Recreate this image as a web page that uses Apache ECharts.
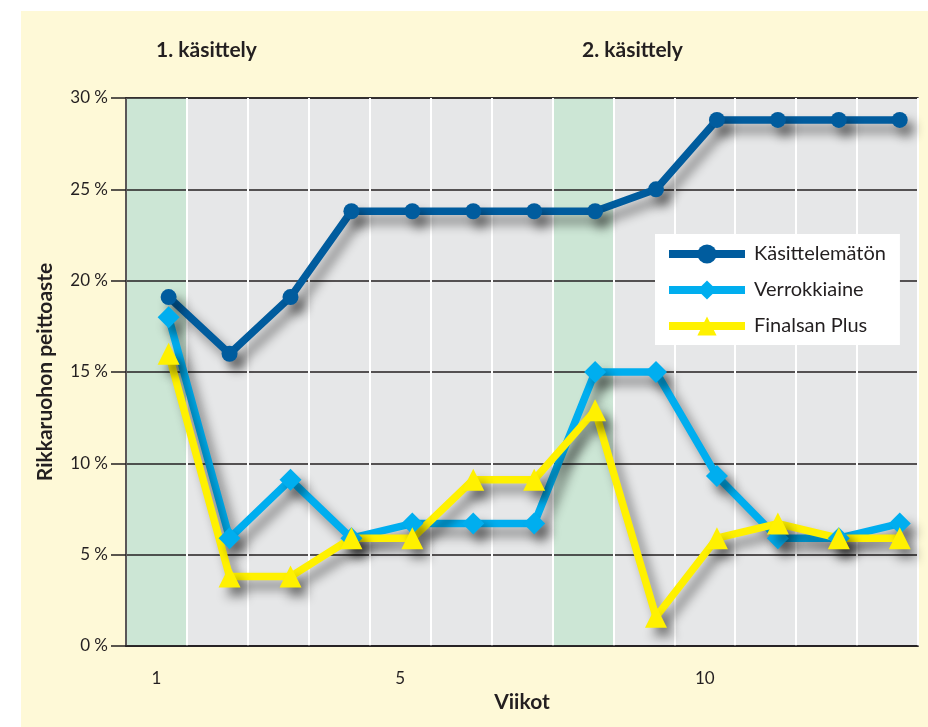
<!DOCTYPE html>
<html>
<head>
<meta charset="utf-8">
<script src="https://cdn.jsdelivr.net/npm/echarts@6/dist/echarts.min.js"></script>
<style>
  html, body { margin: 0; padding: 0; background: #ffffff; }
  #wrap { position: relative; width: 928px; height: 727px; }
  #paper { position: absolute; left: 21px; top: 11px; right: 0; bottom: 0; background: #fef9d7; }
  #chart { position: absolute; left: 0; top: 0; width: 928px; height: 727px; }
</style>
</head>
<body>
<div id="wrap">
  <div id="paper"></div>
  <div id="chart"></div>
</div>
<script>
// weeks 1..13
const weeks = ['1', '2', '3', '4', '5', '6', '7', '8', '9', '10', '11', '12', '13'];
const shownWeekLabels = ['1', '5', '10'];
const treatmentWeeks = ['1', '8'];   // green bands = käsittelyviikot

const untreated = [19.1, 16.0, 19.1, 23.8, 23.8, 23.8, 23.8, 23.8, 25.0, 28.8, 28.8, 28.8, 28.8];
const reference = [18.0, 5.9, 9.1, 5.9, 6.7, 6.7, 6.7, 15.0, 15.0, 9.3, 5.9, 5.9, 6.7];
const finalsan = [16.0, 3.8, 3.8, 5.9, 5.9, 9.1, 9.1, 12.9, 1.6, 5.9, 6.7, 5.9, 5.9];

const yTicks = [0, 5, 10, 15, 20, 25, 30];

const FONT = 'Lato';
const INK = '#231f20';

const chart = echarts.init(document.getElementById('chart'));

const pairs = arr => arr.map((v, i) => [Number(weeks[i]), v]);

const shadow = {
  shadowColor: 'rgba(0,0,0,0.45)',
  shadowBlur: 11,
  shadowOffsetX: 7,
  shadowOffsetY: 9
};

function lineSeries(name, data, color, symbol, size) {
  return {
    name,
    type: 'line',
    xAxisIndex: 1,
    yAxisIndex: 0,
    z: 5,
    data: pairs(data),
    symbol,
    symbolSize: size,
    lineStyle: Object.assign({ color, width: 7.5 }, shadow),
    itemStyle: Object.assign({ color }, shadow),
    emphasis: { disabled: true }
  };
}

const option = {
  backgroundColor: 'transparent',
  animation: false,
  textStyle: { fontFamily: FONT, color: INK },
  title: [
    { text: '1. käsittely', left: 151, top: 35, textStyle: { fontFamily: FONT, fontSize: 21, fontWeight: 'bold', color: INK } },
    { text: '2. käsittely', left: 577, top: 35, textStyle: { fontFamily: FONT, fontSize: 21, fontWeight: 'bold', color: INK } }
  ],
  grid: {
    left: 126, right: 10, top: 98, bottom: 81,
    show: true,
    backgroundColor: '#e6e7e8',
    borderColor: '#3a3536',
    borderWidth: 1.5
  },
  legend: {
    left: 655, top: 234,
    orient: 'vertical',
    backgroundColor: '#ffffff',
    padding: [10, 14, 9, 10],
    itemWidth: 76,
    itemHeight: 24,
    itemGap: 16,
    lineStyle: { width: 8 },
    textStyle: { fontFamily: FONT, fontSize: 20, color: INK, padding: [0, 0, 0, 4] },
    data: ['Käsittelemätön', 'Verrokkiaine', 'Finalsan Plus']
  },
  xAxis: [
    {
      type: 'category',
      data: weeks,
      boundaryGap: true,
      z: 3,
      name: 'Viikot',
      nameLocation: 'middle',
      nameGap: 35,
      nameTextStyle: { fontFamily: FONT, fontSize: 21, fontWeight: 'bold', color: INK },
      axisLine: { lineStyle: { color: INK, width: 1.5 } },
      axisTick: { interval: 0, length: 14, lineStyle: { color: INK, width: 1.5 } },
      axisLabel: {
        interval: 0,
        margin: 24,
        fontSize: 17,
        color: INK,
        formatter: v => shownWeekLabels.includes(v) ? v : ''
      },
      splitLine: { show: true, interval: 0, lineStyle: { color: '#ffffff', width: 2 } }
    },
    {
      type: 'value',
      show: false,
      min: 0.3,
      max: 13.3
    }
  ],
  yAxis: {
    type: 'value',
    min: yTicks[0],
    max: yTicks[yTicks.length - 1],
    interval: 5,
    z: 3,
    name: 'Rikkaruohon peittoaste',
    nameLocation: 'middle',
    nameRotate: 90,
    nameGap: 70,
    nameTextStyle: { fontFamily: FONT, fontSize: 21, fontWeight: 'bold', color: INK },
    axisLine: { show: true, lineStyle: { color: INK, width: 1.5 } },
    axisTick: { show: true, length: 15, lineStyle: { color: INK, width: 1.5 } },
    axisLabel: { fontSize: 17, color: INK, margin: 18, formatter: '{value} %' },
    splitLine: { lineStyle: { color: INK, width: 1.5 } }
  },
  series: [
    {
      name: 'bands',
      type: 'bar',
      xAxisIndex: 0,
      yAxisIndex: 0,
      z: 1,
      barWidth: '100%',
      silent: true,
      itemStyle: { color: '#cce6d5' },
      data: weeks.map(w => treatmentWeeks.includes(w) ? yTicks[yTicks.length - 1] : null)
    },
    lineSeries('Käsittelemätön', untreated, '#005c9e', 'circle', 16),
    lineSeries('Verrokkiaine', reference, '#00aeef', 'diamond', 22),
    lineSeries('Finalsan Plus', finalsan, '#fff100', 'triangle', 22)
  ]
};

chart.setOption(option);
</script>
</body>
</html>
